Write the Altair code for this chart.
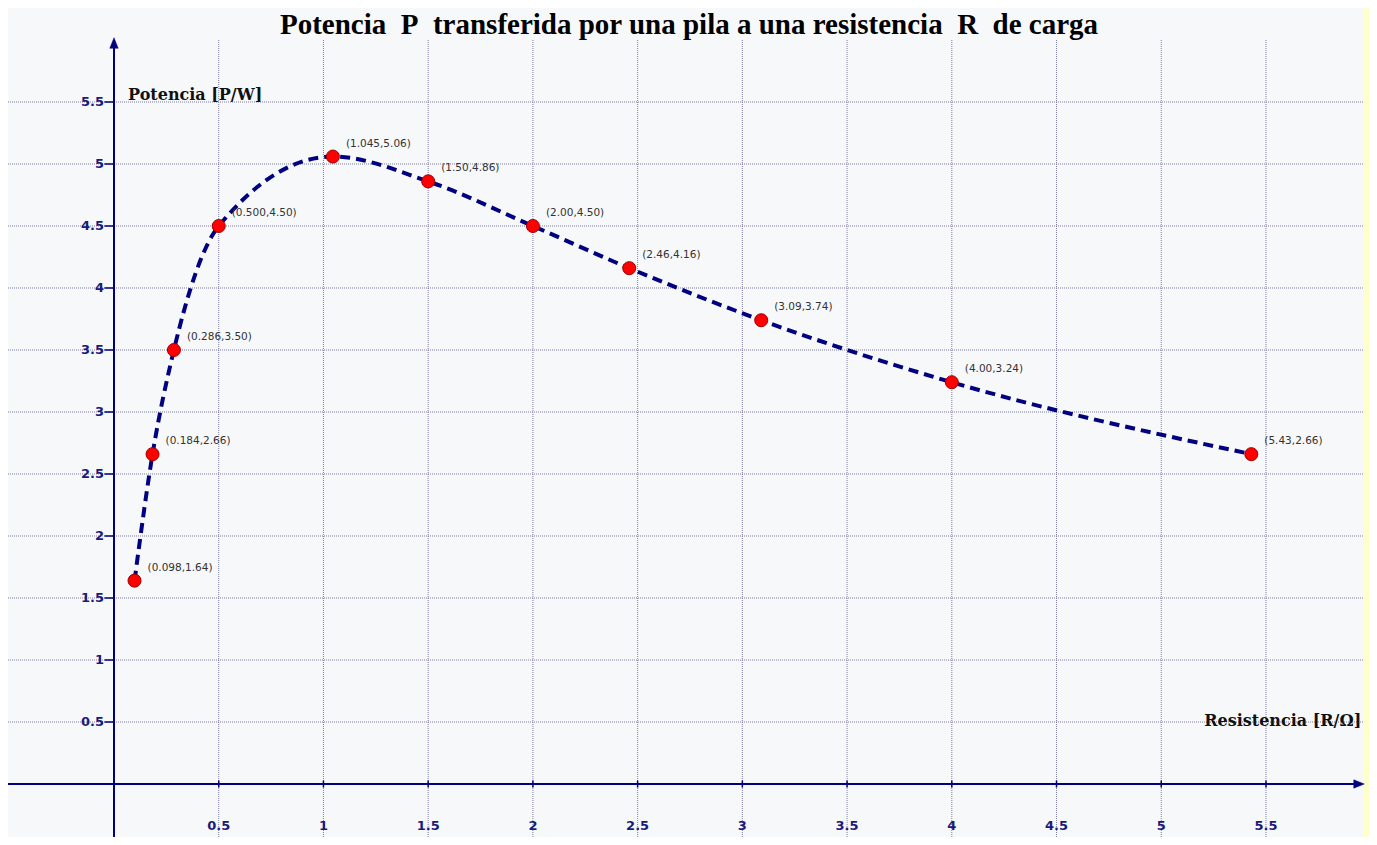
import altair as alt
import pandas as pd

# ---- data ----
R_values = [0.098, 0.184, 0.286, 0.500, 1.045, 1.50, 2.00, 2.46, 3.09, 4.00, 5.43]
P_values = [1.64, 2.66, 3.50, 4.50, 5.06, 4.86, 4.50, 4.16, 3.74, 3.24, 2.66]
point_labels = ["(0.098,1.64)", "(0.184,2.66)", "(0.286,3.50)", "(0.500,4.50)",
                "(1.045,5.06)", "(1.50,4.86)", "(2.00,4.50)", "(2.46,4.16)",
                "(3.09,3.74)", "(4.00,3.24)", "(5.43,2.66)"]
x_ticks = [0.5, 1.0, 1.5, 2.0, 2.5, 3.0, 3.5, 4.0, 4.5, 5.0, 5.5]
x_tick_labels = ["0.5", "1", "1.5", "2", "2.5", "3", "3.5", "4", "4.5", "5", "5.5"]
y_ticks = [0.5, 1.0, 1.5, 2.0, 2.5, 3.0, 3.5, 4.0, 4.5, 5.0, 5.5]
y_tick_labels = ["0.5", "1", "1.5", "2", "2.5", "3", "3.5", "4", "4.5", "5", "5.5"]
title_text = "Potencia\u00a0\u00a0P\u00a0\u00a0transferida por una pila a una resistencia\u00a0\u00a0R\u00a0\u00a0de carga"
y_title = "Potencia [P/W]"
x_title = "Resistencia [R/\u03a9]"

# ---- layout ----
W, H = 1356, 829
NAVY = "#000080"
GRID = "#7e7ea6"

pts = pd.DataFrame({"R": R_values, "P": P_values, "label": point_labels})
xt = pd.DataFrame({"v": x_ticks, "t": x_tick_labels, "z": [0.0] * len(x_ticks)})
yt = pd.DataFrame({"v": y_ticks, "t": y_tick_labels, "z": [0.0] * len(y_ticks)})
origin = pd.DataFrame({"z": [0.0]})
ytitle_df = pd.DataFrame({"t": [y_title], "x": [0.067], "y": [5.5]})
xtitle_df = pd.DataFrame({"t": [x_title], "x": [5.955], "y": [0.5]})

xs = alt.Scale(domain=[-0.5061, 5.968], nice=False, zero=False)
ys = alt.Scale(domain=[-0.4274, 6.258], nice=False, zero=False)

def X(f):
    return alt.X(f, type="quantitative", scale=xs, axis=None)

def Y(f):
    return alt.Y(f, type="quantitative", scale=ys, axis=None)

base_x = alt.Chart(xt)
base_y = alt.Chart(yt)

vgrid = base_x.mark_rule(color=GRID, strokeWidth=1, strokeDash=[1, 1]).encode(
    x=X("v"), y=alt.value(32), y2=alt.value(H))
hgrid = base_y.mark_rule(color=GRID, strokeWidth=1, strokeDash=[1, 1]).encode(
    y=Y("v"), x=alt.value(0), x2=alt.value(W))

xaxis = alt.Chart(origin).mark_rule(color=NAVY, strokeWidth=2).encode(
    y=Y("z"), x=alt.value(0), x2=alt.value(W - 6))
yaxis = alt.Chart(origin).mark_rule(color=NAVY, strokeWidth=2).encode(
    x=X("z"), y=alt.value(34), y2=alt.value(H))

x_arrow = alt.Chart(origin).mark_point(
    shape="M-1,-0.8L1,0L-1,0.8Z", filled=True, fill=NAVY, stroke=NAVY, strokeWidth=0.5,
    size=110, opacity=1).encode(y=Y("z"), x=alt.value(W - 5))
y_arrow = alt.Chart(origin).mark_point(
    shape="M-0.8,1L0,-1L0.8,1Z", filled=True, fill=NAVY, stroke=NAVY, strokeWidth=0.5,
    size=110, opacity=1).encode(x=X("z"), y=alt.value(35))

x_tickmarks = base_x.mark_point(shape="M0,-1L0,1", stroke=NAVY, strokeWidth=1.5,
                                size=49, opacity=1).encode(x=X("v"), y=Y("z"))
y_tickmarks = base_y.mark_point(shape="M-1,0L0,0", stroke=NAVY, strokeWidth=1.5,
                                size=361, opacity=1).encode(y=Y("v"), x=X("z"))

x_labels = base_x.mark_text(font="DejaVu Sans", fontWeight="bold", fontSize=13,
                            color="#1a1a7a", align="center", baseline="alphabetic",
                            dy=46).encode(x=X("v"), y=Y("z"), text="t:N")
y_labels = base_y.mark_text(font="DejaVu Sans", fontWeight="bold", fontSize=13,
                            color="#1a1a7a", align="right", baseline="middle",
                            dx=-10).encode(y=Y("v"), x=X("z"), text="t:N")

curve = alt.Chart(pts).mark_line(interpolate="monotone", color=NAVY, strokeWidth=4,
                                 strokeDash=[10, 6], strokeCap="butt").encode(
    x=X("R"), y=Y("P"), order=alt.Order("R:Q"))

dots = alt.Chart(pts).mark_point(filled=True, fill="#ff0000", stroke="#a00000",
                                 strokeWidth=1, size=170, opacity=1).encode(x=X("R"), y=Y("P"))

dot_labels = alt.Chart(pts).mark_text(font="DejaVu Sans", fontSize=10.5, color="#333333",
                                      align="left", baseline="middle", dx=13, dy=-13).encode(
    x=X("R"), y=Y("P"), text="label:N")

title = alt.Chart(pd.DataFrame({"t": [title_text]})).mark_text(
    font="Liberation Serif", fontWeight="bold", fontSize=29, color="#000000",
    align="center", baseline="alphabetic").encode(
    x=alt.value(681), y=alt.value(26), text="t:N")

ytitle = alt.Chart(ytitle_df).mark_text(
    font="DejaVu Serif", fontWeight="bold", fontSize=16, color="#111111",
    align="left", baseline="alphabetic", dy=-2).encode(
    x=X("x"), y=Y("y"), text="t:N")

xtitle = alt.Chart(xtitle_df).mark_text(
    font="DejaVu Serif", fontWeight="bold", fontSize=16, color="#111111",
    align="right", baseline="alphabetic", dy=4).encode(
    x=X("x"), y=Y("y"), text="t:N")

chart = alt.layer(
    vgrid, hgrid, xaxis, yaxis, x_arrow, y_arrow, x_tickmarks, y_tickmarks,
    x_labels, y_labels, curve, dots, dot_labels, title, ytitle, xtitle
).properties(
    width=W, height=H,
    autosize=alt.AutoSizeParams(type="none"),
    padding={"left": 0, "top": 0, "right": 5, "bottom": 0},
    background="#FFFFCC",
).configure_view(fill="#F7F8FA", stroke=None)

chart.save("out.html", embed_options={"renderer": "svg", "actions": False})
